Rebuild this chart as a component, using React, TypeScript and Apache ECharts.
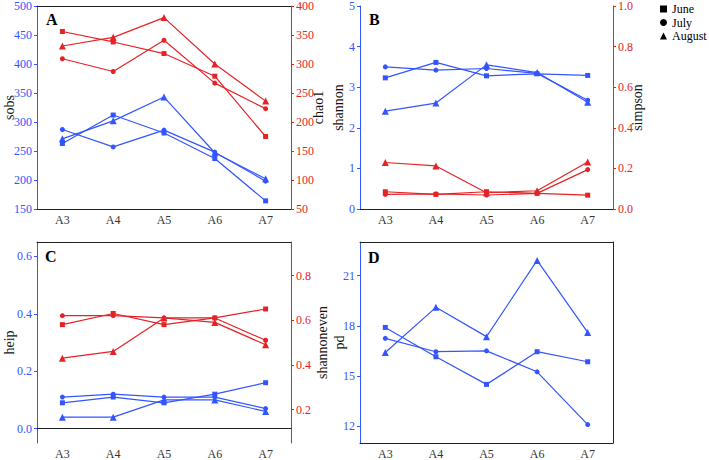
import React, { useEffect, useRef } from "react";
import * as echarts from "echarts";

const categories = ["A3", "A4", "A5", "A6", "A7"];
const months = ["June", "July", "August"];
const monthSymbols = ["rect", "circle", "triangle"];

const sobsJune = [263, 312, 281, 237, 164];
const sobsJuly = [287, 257, 286, 248, 198];
const sobsAugust = [271, 302, 343, 247, 202];
const chao1June = [356, 338, 318, 279, 175];
const chao1July = [309, 287, 341, 267, 223];
const chao1August = [331, 346, 380, 300, 236];

const shannonJune = [3.23, 3.61, 3.28, 3.33, 3.29];
const shannonJuly = [3.5, 3.42, 3.46, 3.34, 2.68];
const shannonAugust = [2.41, 2.61, 3.55, 3.36, 2.63];
const simpsonJune = [0.085, 0.072, 0.085, 0.077, 0.068];
const simpsonJuly = [0.072, 0.074, 0.069, 0.077, 0.194];
const simpsonAugust = [0.229, 0.212, 0.08, 0.09, 0.232];

const heipJune = [0.09, 0.11, 0.09, 0.12, 0.16];
const heipJuly = [0.11, 0.12, 0.11, 0.11, 0.07];
const heipAugust = [0.04, 0.04, 0.1, 0.1, 0.06];
const shannonevenJune = [0.58, 0.63, 0.58, 0.61, 0.65];
const shannonevenJuly = [0.62, 0.62, 0.61, 0.61, 0.51];
const shannonevenAugust = [0.43, 0.46, 0.61, 0.59, 0.49];

const pdJune = [17.9, 16.15, 14.5, 16.45, 15.85];
const pdJuly = [17.25, 16.45, 16.5, 15.25, 12.1];
const pdAugust = [16.4, 19.1, 17.35, 21.9, 17.6];

const BLUE = "#3355ff";
const RED = "#e52226";
const FONT = "Liberation Serif";

export default function App() {
  const ref = useRef<HTMLDivElement>(null);
  useEffect(() => {
    if (!ref.current) return;
    const chart = echarts.init(ref.current, undefined, { renderer: "svg" });

    const grids = [
      { left: 37, top: 6, width: 254, height: 203 },
      { left: 360, top: 6, width: 253, height: 203 },
      { left: 37, top: 242, width: 254, height: 203 },
      { left: 360, top: 242, width: 253, height: 203 },
    ];

    const xAxes: any[] = [];
    grids.forEach((_, i) => {
      xAxes.push({
        type: "category",
        gridIndex: i,
        data: categories,
        boundaryGap: true,
        axisLine: { lineStyle: { color: "#222", width: 1 } },
        axisTick: { alignWithLabel: true, length: 3, lineStyle: { color: "#333" } },
        axisLabel: { color: "#333", fontSize: 12, fontFamily: FONT, margin: 5 },
        splitLine: { show: false },
      });
    });
    grids.forEach((_, i) => {
      xAxes.push({
        type: "category",
        gridIndex: i,
        position: "top",
        data: categories,
        axisLine: { lineStyle: { color: "#222", width: 1 } },
        axisTick: { show: false },
        axisLabel: { show: false },
        splitLine: { show: false },
      });
    });

    const yAxis = (
      gridIndex: number,
      position: string,
      color: string,
      name: string,
      nameGap: number,
      extra: any
    ) => ({
      type: "value",
      gridIndex,
      position,
      name,
      nameLocation: "middle",
      nameGap,
      nameRotate: 90,
      nameMoveOverlap: false,
      nameTextStyle: { color: "#111", fontSize: 14, fontFamily: FONT },
      axisLine: { show: true, onZero: false, lineStyle: { color, width: 1 } },
      axisTick: { show: true, length: 3, lineStyle: { color } },
      axisLabel: { color, fontSize: 12, fontFamily: FONT, margin: 5 },
      splitLine: { show: false },
      ...extra,
    });

    const fmt1 = (v: number) => v.toFixed(1);

    const yAxes: any[] = [
      yAxis(0, "left", BLUE, "sobs", 21, { min: 150, max: 500, interval: 50 }),
      yAxis(0, "right", RED, "chao1", 20, { min: 50, max: 400, interval: 50 }),
      yAxis(1, "left", BLUE, "shannon", 15, { min: 0, max: 5, interval: 1 }),
      yAxis(1, "right", RED, "simpson", 17, {
        min: 0,
        max: 1,
        interval: 0.2,
        axisLabel: { color: RED, fontSize: 12, fontFamily: FONT, margin: 5, formatter: fmt1 },
      }),
      yAxis(2, "left", BLUE, "heip", 21, {
        min: -0.05,
        max: 0.65,
        splitNumber: 3,
        minInterval: 0.2,
        maxInterval: 0.2,
        axisLabel: {
          color: BLUE, fontSize: 12, fontFamily: FONT, margin: 5, formatter: fmt1,
          showMinLabel: false, showMaxLabel: false,
        },
      }),
      yAxis(2, "right", RED, "shannoneven", 24, {
        min: 0.05,
        max: 0.95,
        splitNumber: 4,
        minInterval: 0.2,
        maxInterval: 0.2,
        axisLabel: {
          color: RED, fontSize: 12, fontFamily: FONT, margin: 5, formatter: fmt1,
          showMinLabel: false, showMaxLabel: false,
        },
      }),
      yAxis(3, "left", BLUE, "pd", 14, {
        min: 11,
        max: 23,
        splitNumber: 4,
        minInterval: 3,
        maxInterval: 3,
        axisLabel: {
          color: BLUE, fontSize: 12, fontFamily: FONT, margin: 5,
          showMinLabel: false, showMaxLabel: false,
        },
      }),
      {
        type: "value",
        gridIndex: 3,
        position: "right",
        min: 0,
        max: 1,
        axisLine: { show: true, lineStyle: { color: "#222", width: 1 } },
        axisTick: { show: false },
        axisLabel: { show: false },
        splitLine: { show: false },
      },
    ];

    const mk = (name: string, data: number[], xi: number, yi: number, color: string, mIdx: number) => ({
      type: "line",
      name,
      data,
      xAxisIndex: xi,
      yAxisIndex: yi,
      symbol: monthSymbols[mIdx],
      symbolSize: mIdx === 2 ? 7 : 5,
      showSymbol: true,
      lineStyle: { color, width: 1.2 },
      itemStyle: { color },
      z: 3,
    });

    const series: any[] = [
      mk("sobs June", sobsJune, 0, 0, BLUE, 0),
      mk("sobs July", sobsJuly, 0, 0, BLUE, 1),
      mk("sobs August", sobsAugust, 0, 0, BLUE, 2),
      mk("chao1 June", chao1June, 0, 1, RED, 0),
      mk("chao1 July", chao1July, 0, 1, RED, 1),
      mk("chao1 August", chao1August, 0, 1, RED, 2),
      mk("shannon June", shannonJune, 1, 2, BLUE, 0),
      mk("shannon July", shannonJuly, 1, 2, BLUE, 1),
      mk("shannon August", shannonAugust, 1, 2, BLUE, 2),
      mk("simpson June", simpsonJune, 1, 3, RED, 0),
      mk("simpson July", simpsonJuly, 1, 3, RED, 1),
      mk("simpson August", simpsonAugust, 1, 3, RED, 2),
      mk("heip June", heipJune, 2, 4, BLUE, 0),
      mk("heip July", heipJuly, 2, 4, BLUE, 1),
      mk("heip August", heipAugust, 2, 4, BLUE, 2),
      mk("shannoneven June", shannonevenJune, 2, 5, RED, 0),
      mk("shannoneven July", shannonevenJuly, 2, 5, RED, 1),
      mk("shannoneven August", shannonevenAugust, 2, 5, RED, 2),
      mk("pd June", pdJune, 3, 6, BLUE, 0),
      mk("pd July", pdJuly, 3, 6, BLUE, 1),
      mk("pd August", pdAugust, 3, 6, BLUE, 2),
    ];
    months.forEach((m, i) => {
      series.push({
        type: "line",
        name: m,
        data: [],
        xAxisIndex: 3,
        yAxisIndex: 6,
        symbol: monthSymbols[i],
        itemStyle: { color: "#000" },
        lineStyle: { color: "#000" },
      });
    });

    const letter = (t: string, x: number, y: number) => ({
      type: "text",
      left: x,
      top: y,
      style: { text: t, font: `bold 16px ${FONT}`, fill: "#000" },
    });

    chart.setOption({
      animation: false,
      backgroundColor: "#fff",
      textStyle: { fontFamily: FONT },
      grid: grids,
      xAxis: xAxes,
      yAxis: yAxes,
      series,
      legend: {
        orient: "vertical",
        left: 660,
        top: 3,
        padding: 0,
        itemGap: 1.5,
        itemWidth: 7,
        itemHeight: 7,
        selectedMode: false,
        textStyle: { fontSize: 12, fontFamily: FONT, color: "#000", lineHeight: 12 },
        data: months.map((m, i) => ({ name: m, icon: monthSymbols[i] })),
      },
      graphic: [
        letter("A", 46, 11),
        letter("B", 369, 11),
        letter("C", 45, 248),
        letter("D", 368, 249),
      ],
    });

    return () => chart.dispose();
  }, []);

  return (
    <div
      ref={ref}
      style={{ position: "fixed", left: 0, top: 0, width: 709, height: 460, background: "#fff" }}
    />
  );
}
